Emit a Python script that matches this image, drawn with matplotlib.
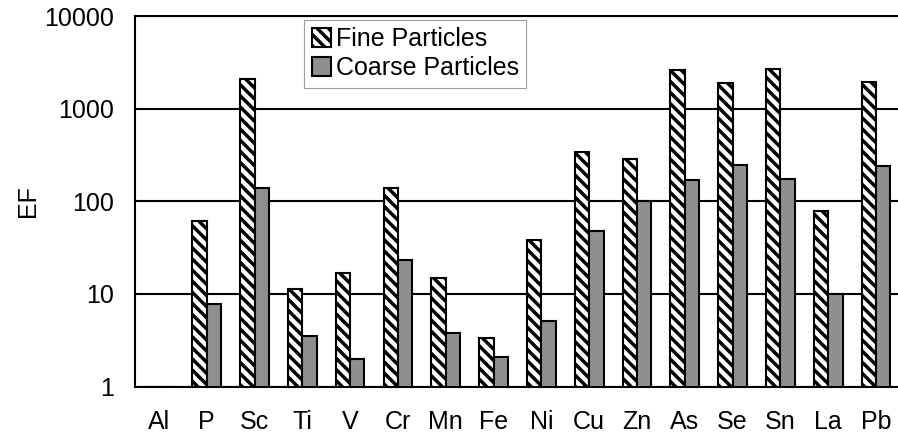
import matplotlib.pyplot as plt
import numpy as np

# Enrichment factors
elements = ['Al', 'P', 'Sc', 'Ti', 'V', 'Cr', 'Mn', 'Fe', 'Ni', 'Cu',
            'Zn', 'As', 'Se', 'Sn', 'La', 'Pb']
fine_ef = [1.0, 61, 2100, 11.2, 17, 140, 14.7, 3.3, 38, 336,
           288, 2620, 1900, 2650, 79, 1960]
coarse_ef = [1.0, 7.8, 138, 3.5, 2.0, 23, 3.8, 2.07, 5.1, 48,
             100, 170, 248, 173, 10, 241]

plt.rcParams['font.family'] = ['Liberation Sans', 'DejaVu Sans']
plt.rcParams['hatch.linewidth'] = 2.5

fig = plt.figure(figsize=(8.98, 4.38), dpi=100)
ax = fig.add_axes([135 / 898, 1 - 386.5 / 438, 1 - 135 / 898, (386.5 - 16) / 438])

x = np.arange(len(elements))
bar_w = 0.30

# bars start at 1 on the log axis
ax.bar(x - bar_w / 2, np.array(fine_ef) - 1, bottom=1, width=bar_w,
       color='white', edgecolor='black', hatch='\\\\\\', linewidth=1.5,
       label='Fine Particles', zorder=3)
ax.bar(x + bar_w / 2, np.array(coarse_ef) - 1, bottom=1, width=bar_w,
       color='#8f8f8f', edgecolor='black', linewidth=1.5,
       label='Coarse Particles', zorder=3)

ax.set_yscale('log')
ax.set_ylim(1, 10000)
ax.set_xlim(-0.5, 15.46)
ax.set_yticks([1, 10, 100, 1000, 10000])
ax.set_yticklabels(['1', '10', '100', '1000', '10000'])
ax.minorticks_off()
ax.set_xticks(x)
ax.set_xticklabels(elements)
ax.tick_params(axis='both', length=0, labelsize=18)
ax.tick_params(axis='x', pad=17)
ax.tick_params(axis='y', pad=15)
ax.yaxis.grid(True, color='black', linewidth=1.5, zorder=1)
ax.set_axisbelow(True)
for s in ax.spines.values():
    s.set_linewidth(1.5)
ax.spines['right'].set_visible(False)

ax.set_ylabel('EF', fontsize=18, labelpad=3)

leg = ax.legend(loc='upper left', bbox_to_anchor=(0.222, 0.99), fontsize=18,
                frameon=True, fancybox=False, handlelength=0.75,
                handleheight=0.75, handletextpad=0.2, borderpad=0.3,
                labelspacing=0.2, borderaxespad=0)
leg.get_frame().set_edgecolor('#888888')
leg.get_frame().set_linewidth(0.8)

plt.savefig('out.png', dpi=100)
